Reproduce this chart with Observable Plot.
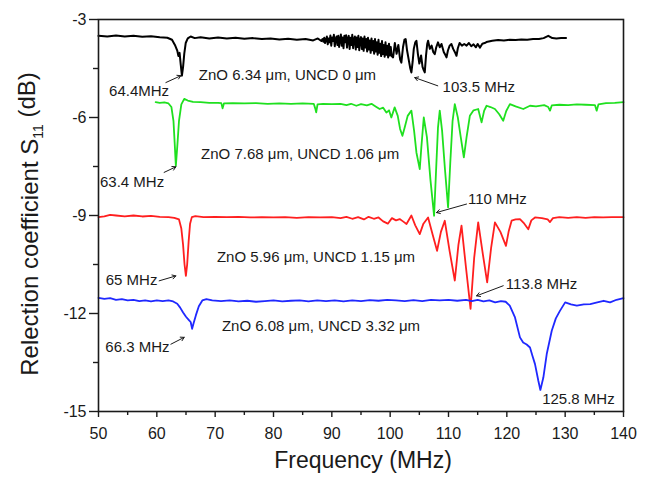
<!DOCTYPE html>
<html>
<head>
<meta charset="utf-8">
<script src="https://cdn.jsdelivr.net/npm/d3@7"></script>
<script src="https://cdn.jsdelivr.net/npm/@observablehq/plot@0.6"></script>
<style>
  html, body { margin: 0; padding: 0; background: #fff; overflow: hidden; }
</style>
</head>
<body>
<div id="chart"></div>
<script>
// ---- Data (frequency MHz, S11 dB) ----
const blackSeries = [[50,-3.50],[51.5,-3.52],[53,-3.49],[54.5,-3.52],[56,-3.50],[57.5,-3.53],[59,-3.51],[60.5,-3.54],[61.8,-3.56],[62.6,-3.62],[63.1,-3.78],[63.5,-3.95],[63.7,-4.12],[63.9,-4.02],[64.1,-4.38],[64.3,-4.72],[64.5,-4.45],[64.7,-4.05],[64.95,-3.72],[65.3,-3.58],[65.8,-3.52],[66.5,-3.57],[67.5,-3.54],[69,-3.58],[70.5,-3.55],[72,-3.58],[73.5,-3.56],[75,-3.59],[76.5,-3.57],[78,-3.60],[79.5,-3.58],[81,-3.61],[82.5,-3.59],[84,-3.62],[85.5,-3.60],[86.8,-3.64],[87.6,-3.58],[88.2,-3.66],
[88.4,-3.60],[88.55,-3.68],[88.7,-3.56],[88.85,-3.72],[89.0,-3.62],[89.15,-3.52],[89.3,-3.76],[89.45,-3.58],[89.6,-3.70],[89.75,-3.49],[89.9,-3.80],[90.05,-3.55],[90.2,-3.66],[90.35,-3.47],[90.5,-3.82],[90.65,-3.60],[90.8,-3.52],[90.95,-3.78],[91.1,-3.50],[91.25,-3.84],[91.4,-3.62],[91.55,-3.46],[91.7,-3.80],[91.85,-3.55],[92.0,-3.88],[92.15,-3.50],[92.3,-3.70],[92.45,-3.48],[92.6,-3.86],[92.75,-3.58],[92.9,-3.50],[93.05,-3.90],[93.2,-3.56],[93.35,-3.78],[93.5,-3.47],[93.65,-3.88],[93.8,-3.60],[93.95,-3.52],[94.1,-3.92],[94.25,-3.55],[94.4,-3.84],[94.55,-3.50],[94.7,-3.94],[94.85,-3.62],[95.0,-3.54],[95.15,-3.90],[95.3,-3.58],[95.45,-3.96],[95.6,-3.52],[95.75,-3.86],[95.9,-3.60],[96.05,-3.98],[96.2,-3.56],[96.35,-3.92],[96.5,-3.64],[96.65,-4.02],[96.8,-3.58],[96.95,-3.94],[97.1,-3.66],[97.25,-4.05],[97.4,-3.60],[97.55,-3.98],[97.7,-3.70],[97.85,-4.08],[98.0,-3.62],[98.15,-4.02],[98.3,-3.74],[98.45,-4.12],[98.6,-3.66],[98.75,-4.06],[98.9,-3.78],[99.05,-4.14],[99.2,-3.70],[99.35,-4.08],[99.5,-3.80],[99.65,-4.16],[99.8,-3.74],[99.95,-4.10],[100.1,-3.84],[100.25,-4.12],[100.5,-4.16],[100.8,-3.72],[101.1,-4.05],[101.4,-3.78],[101.7,-4.22],[101.92,-4.32],[102.2,-3.85],[102.45,-3.62],[102.66,-3.60],[102.9,-3.95],[103.2,-4.25],[103.45,-4.50],[103.64,-4.62],[103.85,-4.30],[104.05,-3.90],[104.3,-3.70],[104.5,-3.65],[104.75,-4.05],[105.0,-4.35],[105.3,-4.10],[105.55,-4.45],[105.75,-4.55],[105.93,-4.62],[106.15,-4.10],[106.35,-3.75],[106.5,-3.65],[106.8,-3.90],[107.1,-3.80],[107.4,-4.0],[107.65,-4.06],[107.9,-3.85],[108.2,-3.70],[108.5,-3.85],[108.8,-3.75],[109.2,-4.0],[109.45,-4.08],[109.66,-4.16],[109.9,-3.95],[110.2,-3.80],[110.5,-3.75],[110.8,-3.90],[111.1,-4.0],[111.37,-4.11],[111.6,-3.88],[111.9,-3.72],[112.3,-3.80],[112.7,-3.75],[113.1,-3.80],[113.5,-3.72],[113.9,-3.82],[114.3,-3.76],[114.7,-3.85],[115.0,-3.75],[115.4,-3.86],[115.8,-3.74],[116.2,-3.72],[116.5,-3.69],[117.5,-3.65],[118.5,-3.63],[119.5,-3.64],[120.5,-3.62],[121.5,-3.63],[122.5,-3.61],[123.5,-3.62],[124.5,-3.60],[125.5,-3.60],[126.3,-3.57],[127.1,-3.50],[127.8,-3.57],[128.5,-3.58],[129.3,-3.57],[130.15,-3.57]];

const greenSeries = [[59.8,-5.53],[60.5,-5.55],[61.3,-5.54],[62.0,-5.57],[62.5,-5.68],[62.85,-6.1],[63.05,-6.75],[63.26,-7.48],[63.5,-6.9],[63.8,-6.1],[64.2,-5.6],[64.7,-5.43],[65.3,-5.48],[66.2,-5.52],[67.5,-5.53],[69,-5.55],[70.5,-5.55],[71.05,-5.56],[71.27,-5.72],[71.5,-5.57],[73,-5.56],[75,-5.57],[77,-5.56],[79,-5.58],[81,-5.57],[83,-5.58],[85,-5.57],[86.9,-5.58],[87.15,-5.72],[87.32,-5.84],[87.55,-5.6],[88.5,-5.58],[90,-5.59],[91.5,-5.58],[92.5,-5.62],[93.3,-5.58],[94.2,-5.64],[95,-5.59],[96,-5.63],[96.8,-5.58],[97.5,-5.66],[98.2,-5.74],[98.8,-5.70],[99.35,-5.85],[99.8,-5.78],[100.2,-6.0],[100.77,-5.69],[101.3,-5.95],[101.7,-6.35],[102.1,-6.56],[102.5,-6.3],[103.0,-5.95],[103.64,-5.79],[104.1,-6.4],[104.5,-7.07],[105.07,-7.58],[105.35,-6.9],[105.76,-6.0],[106.3,-6.6],[106.9,-7.9],[107.53,-9.01],[107.9,-7.5],[108.2,-6.3],[108.5,-5.79],[108.9,-6.4],[109.4,-7.6],[109.93,-8.75],[110.3,-7.4],[110.7,-6.1],[111.08,-5.59],[111.6,-6.0],[112.1,-6.6],[112.63,-7.22],[113.1,-6.6],[113.66,-5.95],[114.3,-5.78],[115.09,-5.74],[115.67,-6.15],[116.1,-5.8],[116.53,-5.64],[117.2,-5.68],[117.96,-5.74],[118.7,-5.9],[119.38,-6.1],[119.9,-5.8],[120.53,-5.59],[121.5,-5.66],[122.82,-5.74],[123.97,-5.64],[125,-5.66],[126.4,-5.62],[127.1,-5.68],[127.4,-5.79],[127.7,-5.63],[129,-5.61],[130.5,-5.62],[132,-5.6],[133.5,-5.61],[135.1,-5.62],[135.4,-5.79],[135.7,-5.6],[137,-5.56],[138.5,-5.55],[140,-5.53]];

const redSeries = [[50,-9.05],[51,-9.03],[52,-8.98],[53,-9.0],[54.5,-9.03],[56,-9.0],[57.5,-9.03],[59,-9.01],[60.5,-9.04],[62,-9.05],[63,-9.07],[63.8,-9.12],[64.2,-9.4],[64.5,-9.9],[64.75,-10.5],[64.98,-10.85],[65.2,-10.5],[65.45,-9.8],[65.7,-9.25],[66.0,-9.05],[66.6,-9.02],[68,-9.05],[70,-9.04],[72,-9.05],[74,-9.04],[76,-9.06],[78,-9.05],[80,-9.06],[82,-9.05],[84,-9.07],[86,-9.05],[88,-9.06],[90,-9.05],[91.5,-9.08],[92.5,-9.04],[93.5,-9.1],[94.5,-9.05],[95.5,-9.12],[96.3,-9.04],[97.2,-9.1],[98,-9.06],[98.8,-9.18],[99.6,-9.25],[100.3,-9.08],[101,-9.15],[101.63,-9.11],[102.2,-9.18],[102.8,-9.26],[103.64,-9.0],[104.3,-9.3],[105.07,-9.57],[105.7,-9.25],[106.5,-9.06],[107.3,-9.6],[108.04,-10.08],[108.7,-9.5],[109.36,-9.16],[110.2,-10.1],[111.08,-10.99],[111.7,-9.9],[112.23,-9.31],[113.0,-10.6],[113.78,-11.86],[114.4,-10.3],[115.09,-9.21],[115.9,-10.2],[116.63,-11.05],[117.3,-10.0],[117.96,-9.21],[118.9,-9.5],[119.85,-9.93],[120.3,-9.5],[120.82,-9.16],[121.5,-9.12],[122.25,-9.11],[123.0,-9.25],[123.68,-9.42],[124.2,-9.15],[124.83,-9.06],[126,-9.08],[127.0,-9.12],[127.4,-9.2],[127.9,-9.08],[129,-9.05],[130.5,-9.07],[132,-9.05],[133.5,-9.07],[135,-9.05],[136.5,-9.06],[138,-9.05],[140,-9.05]];

const blueSeries = [[50,-11.52],[51,-11.55],[52,-11.53],[53,-11.58],[54,-11.56],[55,-11.6],[56,-11.58],[57,-11.62],[58,-11.6],[59,-11.63],[60,-11.6],[61,-11.62],[62,-11.6],[62.8,-11.63],[63.5,-11.7],[64.0,-11.82],[64.5,-11.97],[65.0,-12.1],[65.5,-12.2],[65.8,-12.26],[66.05,-12.47],[66.3,-12.3],[66.7,-12.05],[67.2,-11.78],[67.8,-11.6],[68.5,-11.56],[69.5,-11.6],[71,-11.62],[72.5,-11.6],[74,-11.63],[75.5,-11.61],[77,-11.64],[78.5,-11.62],[80,-11.6],[81.5,-11.63],[83,-11.61],[84.5,-11.6],[86,-11.63],[87.5,-11.6],[89,-11.62],[90.5,-11.6],[92,-11.63],[93.5,-11.6],[95,-11.62],[96.5,-11.59],[98,-11.61],[99.5,-11.58],[101,-11.6],[102.5,-11.62],[104,-11.59],[105.5,-11.62],[107,-11.58],[108.5,-11.6],[110,-11.58],[111.5,-11.61],[113,-11.58],[114,-11.62],[115,-11.58],[116,-11.63],[117,-11.6],[118,-11.66],[119,-11.62],[119.8,-11.64],[120.5,-11.76],[121.4,-12.12],[122.25,-12.73],[122.8,-12.89],[123.4,-12.95],[123.97,-13.04],[124.4,-13.3],[124.83,-13.55],[125.4,-14.06],[125.75,-14.34],[126.26,-13.96],[126.84,-13.24],[127.7,-12.53],[128.4,-12.15],[129.1,-11.92],[130.0,-11.66],[131,-11.72],[132.0,-11.76],[133.2,-11.72],[134.3,-11.71],[135.5,-11.66],[136.6,-11.61],[137.7,-11.66],[138.8,-11.58],[140,-11.53]];

// Annotation labels: text, freq, dB
const labelTexts = ["64.4MHz", "ZnO 6.34 \u03bcm, UNCD 0 \u03bcm", "103.5 MHz", "63.4 MHz", "ZnO 7.68 \u03bcm, UNCD 1.06 \u03bcm", "110 MHz", "ZnO 5.96 \u03bcm, UNCD 1.15 \u03bcm", "65 MHz", "113.8 MHz", "ZnO 6.08 \u03bcm, UNCD 3.32 \u03bcm", "66.3 MHz", "125.8 MHz"];
const labelFreq = [56.96, 82.39, 115.2, 55.76, 84.57, 118.38, 87.29, 55.67, 125.95, 88.14, 56.67, 132.27];
const labelDb = [-5.18, -4.72, -5.08, -7.99, -7.12, -8.50, -10.28, -10.98, -11.10, -12.38, -13.04, -14.62];

// Arrows: [fromFreq, fromDb, toFreq, toDb]
const arrowList = [[61.55,-4.93,64.12,-4.72],[108.16,-5.03,104.21,-4.78],[61.25,-7.68,63.26,-7.51],[113.09,-8.65,107.94,-8.91],[60.4,-11.0,63.26,-10.85],[119.38,-11.15,114.81,-11.46],[62.41,-12.94,64.69,-12.73]];

const xMajor = [50,60,70,80,90,100,110,120,130,140];
const xMinor = [55,65,75,85,95,105,115,125,135];
const yMajor = [-15,-12,-9,-6,-3];
const yMinor = [-13.5,-10.5,-7.5,-4.5];

const font = "'Liberation Sans', Arial, Helvetica, sans-serif";
const ink = "#1a1a1a";

const labels = labelTexts.map((t, i) => ({t, x: labelFreq[i], y: labelDb[i]}));
const arrows = arrowList.map(a => ({x1: a[0], y1: a[1], x2: a[2], y2: a[3]}));

const lineOpts = {x: d => d[0], y: d => d[1], strokeWidth: 1.8, strokeLinejoin: "round"};

const chart = Plot.plot({
  width: 648,
  height: 480,
  marginLeft: 98,
  marginRight: 25,
  marginTop: 19,
  marginBottom: 69,
  style: {fontFamily: font, color: ink, background: "#fff"},
  x: {domain: [50, 140]},
  y: {domain: [-15, -3]},
  marks: [
    Plot.line(blackSeries, {...lineOpts, stroke: "#000", strokeWidth: 2}),
    Plot.line(greenSeries, {...lineOpts, stroke: "#1fe01f"}),
    Plot.line(redSeries, {...lineOpts, stroke: "#ff1f1f"}),
    Plot.line(blueSeries, {...lineOpts, stroke: "#1f28ff"}),
    Plot.arrow(arrows, {x1: "x1", y1: "y1", x2: "x2", y2: "y2", stroke: ink, strokeWidth: 1, headLength: 6, bend: 0}),
    Plot.text(labels, {x: "x", y: "y", text: "t", fontSize: 15, fill: ink, fontFamily: font}),
    Plot.frame({stroke: ink, strokeWidth: 1.6}),
    Plot.axisX({ticks: xMajor, tickSize: 6, tickPadding: 10, fontSize: 16, tickFormat: d => String(d), label: null, stroke: ink, strokeWidth: 1.4}),
    Plot.axisX({ticks: xMinor, tickSize: 4, tickFormat: () => "", label: null, stroke: ink, strokeWidth: 1.4}),
    Plot.axisY({ticks: yMajor, tickSize: 9, tickPadding: 3, fontSize: 16, tickFormat: d => String(d), label: null, stroke: ink, strokeWidth: 1.4}),
    Plot.axisY({ticks: yMinor, tickSize: 5, tickFormat: () => "", label: null, stroke: ink, strokeWidth: 1.4})
  ]
});

document.getElementById("chart").appendChild(chart);

// Axis titles (with subscript on the y title)
const svg = d3.select(chart);
svg.append("text")
  .attr("x", 363).attr("y", 468)
  .attr("text-anchor", "middle")
  .attr("font-family", font).attr("font-size", 23).attr("fill", ink)
  .text("Frequency (MHz)");

const yt = svg.append("text")
  .attr("transform", "translate(38,224) rotate(-90)")
  .attr("text-anchor", "middle")
  .attr("font-family", font).attr("font-size", 24).attr("fill", ink);
yt.append("tspan").text("Relection coefficient S");
yt.append("tspan").attr("font-size", 14).attr("dy", "0.35em").text("11");
yt.append("tspan").attr("dy", "-0.35em").text(" (dB)");
</script>
</body>
</html>
